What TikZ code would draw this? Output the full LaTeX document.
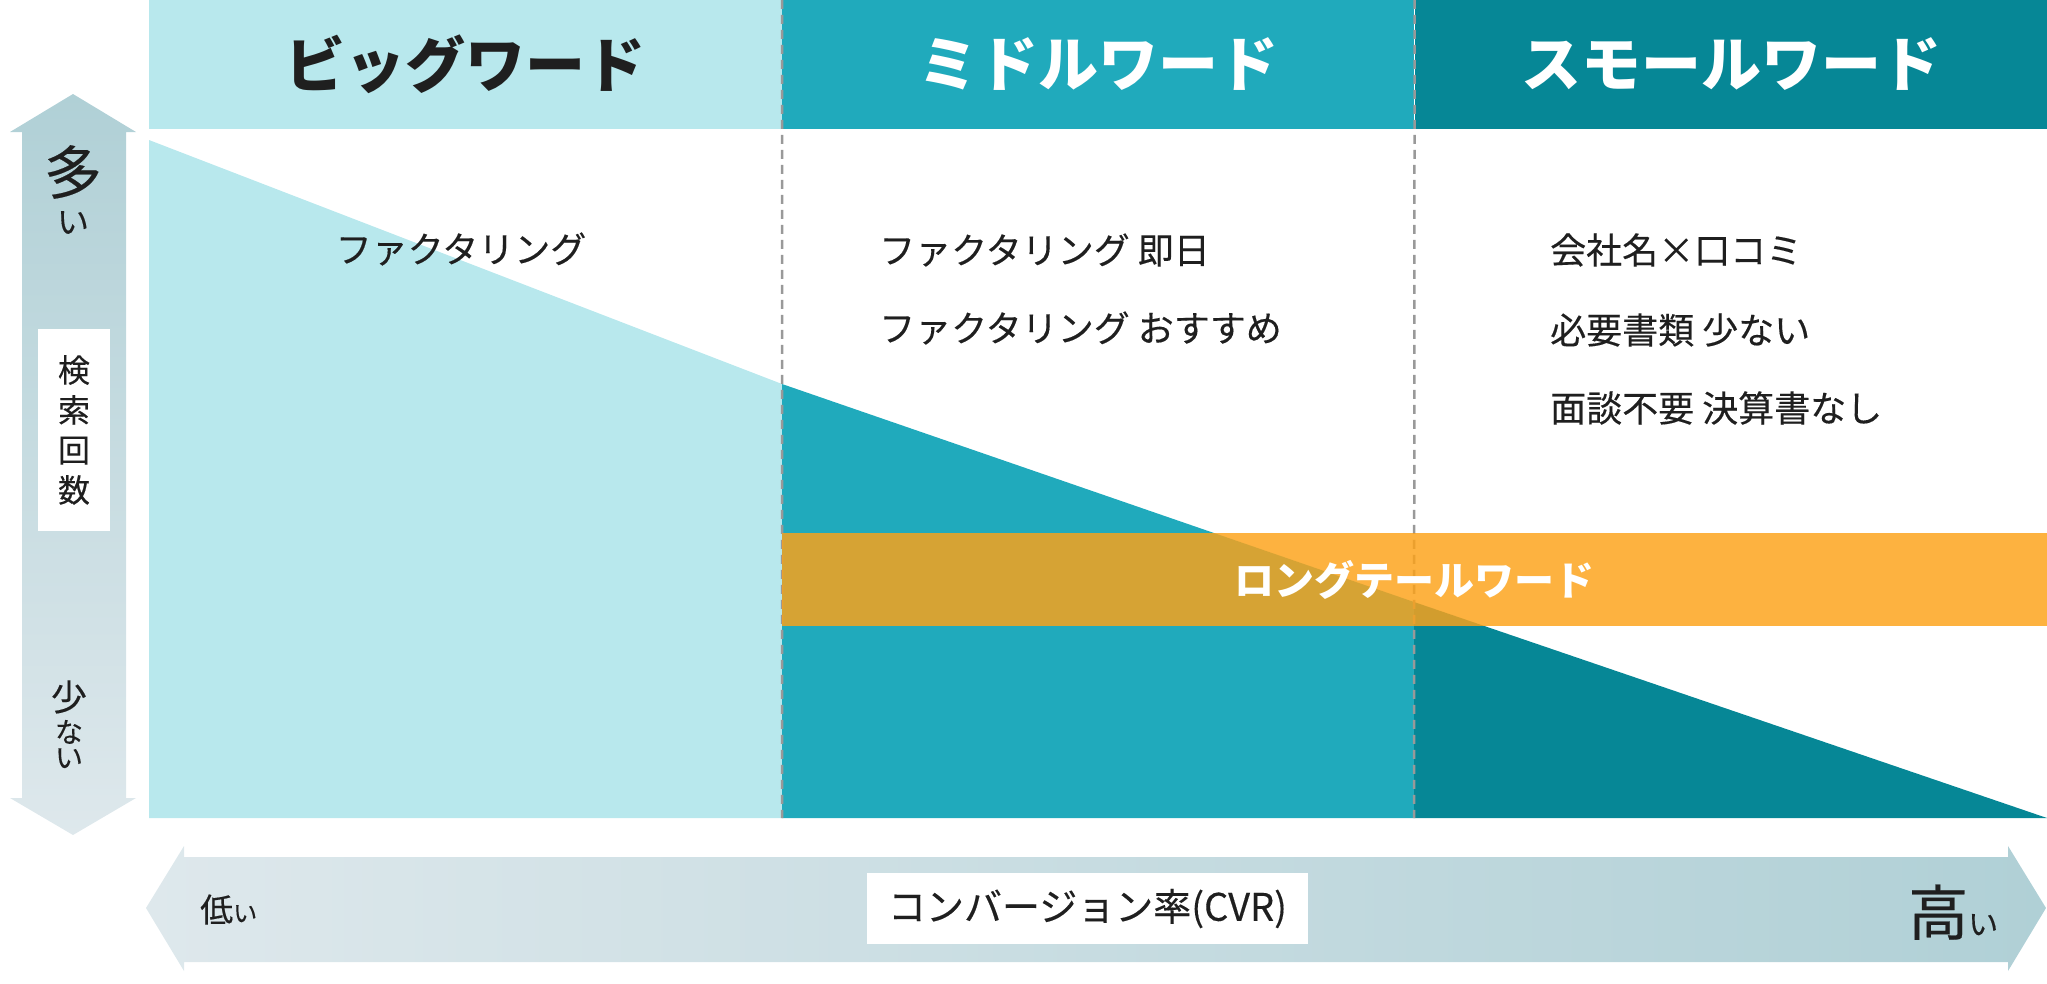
\documentclass[tikz,border=0pt]{standalone}
\usepackage{fontspec}
\setmainfont{Noto Sans CJK JP}
\newfontfamily\wordfont{Noto Sans CJK JP}[FakeBold=0.3]
\usetikzlibrary{positioning}

\definecolor{bigcol}{HTML}{B8E8ED}
\definecolor{midcol}{HTML}{20AABC}
\definecolor{smallcol}{HTML}{068796}
\definecolor{tailcol}{HTML}{FCA219}
\definecolor{axisdark}{HTML}{B0D0D6}
\definecolor{axislight}{HTML}{DEE8EC}
\definecolor{dashgray}{HTML}{999999}
\definecolor{ink}{HTML}{1F1F1F}

\newcommand{\fs}[1]{\fontsize{#1}{#1}\selectfont}

\begin{document}
\begin{tikzpicture}[x=1pt, y=-1pt,
	head/.style={inner sep=0, minimum height=129, font=\fs{60}\bfseries},
	word/.style={inner sep=0, anchor=west, text=ink, font=\wordfont\fs{36}},
	divider/.style={dashgray, line width=2.5, dash pattern=on 9 off 6},
	label/.style={inner sep=0, text=ink}]
	\useasboundingbox (0,0) rectangle (2047,983);
	% headers
	\node [head, fill=bigcol, text=ink, minimum width=633] (big) at (465.5,64.5) {ビッグワード};
	\node [head, fill=midcol, text=white, minimum width=632, right=0pt of big] (mid) {ミドルワード};
	\node [head, fill=smallcol, text=white, minimum width=633, right=0pt of mid] (small) {スモールワード};
	% volume shapes
	\fill [bigcol] (149,140) -- (782,384) -- (782,818) -- (149,818) -- cycle;
	\fill [midcol] (782,384) -- (1414,602) -- (1414,818) -- (782,818) -- cycle;
	\fill [smallcol] (1414,602) -- (2047,818) -- (1414,818) -- cycle;
	\coordinate (d1) at (782,818);
	\coordinate (d2) at (1414,818);
	\draw [divider] (big.north east) -- (d1);
	\draw [divider] (mid.north east) -- (d2);
	% long tail band
	\node [fill=tailcol, fill opacity=0.83, text opacity=1, text=white, inner sep=0,
		minimum width=1265, minimum height=93, font=\fs{40}\bfseries] (tail) at (1414.5,579.5) {ロングテールワード};
	% keywords
	\node [word, anchor=center] (b1) at (461,249) {ファクタリング};
	\node [word] (m1) at (879,250) {ファクタリング 即日};
	\node [word, below=78pt of m1.west, anchor=west] (m2) {ファクタリング おすすめ};
	\node [word] (s1) at (1550,250) {会社名×口コミ};
	\node [word, below=80pt of s1.west, anchor=west] (s2) {必要書類 少ない};
	\node [word, below=78pt of s2.west, anchor=west] (s3) {面談不要 決算書なし};
	% search volume axis
	\shade [top color=axisdark, bottom color=axislight]
		(73,94) -- (136,132) -- (126,132) -- (126,798) -- (136,798) -- (73,835)
		-- (10,798) -- (22,798) -- (22,132) -- (10,132) -- cycle;
	\node [label, font=\wordfont\fs{58}] (many) at (73,172) {多};
	\node [label, font=\wordfont\fs{32}, below=12pt of many] (manyi) {い};
	\node [fill=white, inner sep=0, minimum width=72, minimum height=202, align=center,
		text=ink, font=\wordfont\fontsize{32}{40}\selectfont] (count) at (74,430) {検\\索\\回\\数};
	\node [label, font=\wordfont\fs{36}] (few) at (69,697) {少};
	\node [label, font=\wordfont\fs{28}, below=6pt of few] (fewna) {な};
	\node [label, font=\wordfont\fs{28}, below=4pt of fewna] (fewi) {い};
	% conversion axis
	\shade [left color=axislight, right color=axisdark]
		(146,908) -- (184,846) -- (184,857) -- (2008,857) -- (2008,846) -- (2046,908)
		-- (2008,971) -- (2008,962) -- (184,962) -- (184,971) -- cycle;
	\node [fill=white, inner sep=0, minimum width=441, minimum height=71, text=ink,
		font=\wordfont\fs{38}] (cvr) at (1087.5,908.5) {コンバージョン率(CVR)};
	\node [label, anchor=base west, font=\wordfont\fs{33}] (low) at (200,922) {低{\fs{24}い}};
	\node [label, anchor=base west, font=\wordfont\fs{60}] (high) at (1908,935) {高{\fs{30}い}};
\end{tikzpicture}
\end{document}
